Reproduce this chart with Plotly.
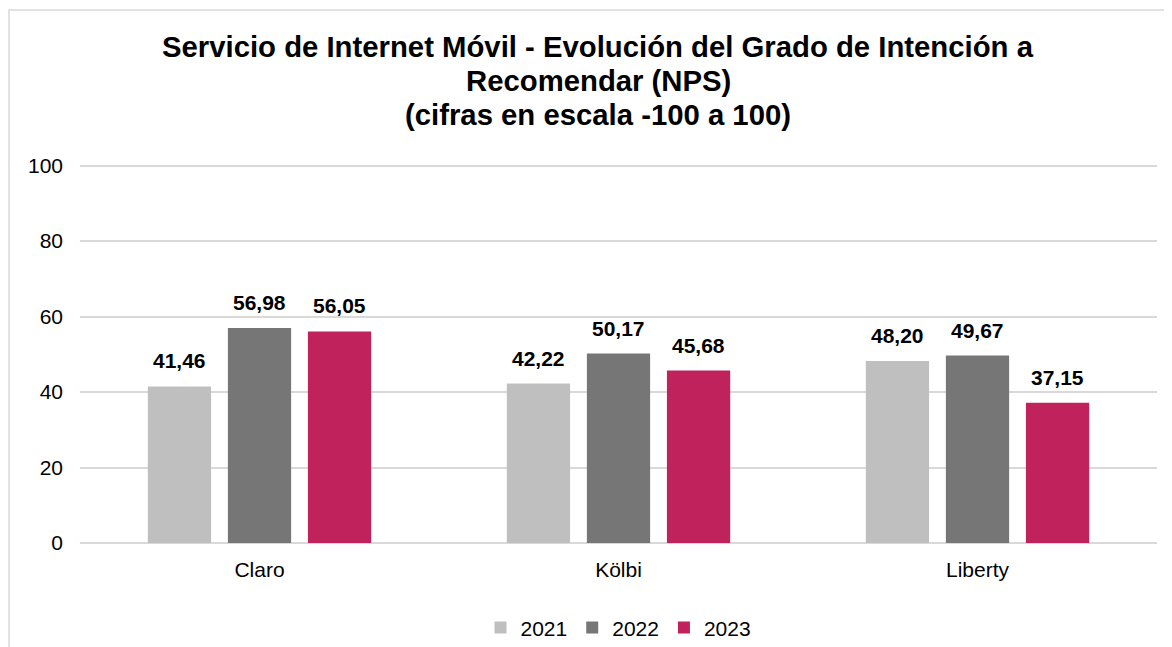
import plotly.graph_objects as go

categories = ["Claro", "Kölbi", "Liberty"]
years = ["2021", "2022", "2023"]
values_2021 = [41.46, 42.22, 48.20]
values_2022 = [56.98, 50.17, 49.67]
values_2023 = [56.05, 45.68, 37.15]
colors = ["#bfbfbf", "#767676", "#c0235b"]
y_ticks = [0, 20, 40, 60, 80, 100]
title_lines = [
    "Servicio de Internet Móvil - Evolución del Grado de Intención a",
    "Recomendar (NPS)",
    "(cifras en escala -100 a 100)",
]

series = [values_2021, values_2022, values_2023]

FONT = "Liberation Sans, Arial, sans-serif"

fig = go.Figure()
for name, vals, col in zip(years, series, colors):
    fig.add_trace(go.Bar(
        x=categories, y=vals, name=name,
        marker=dict(color=col, line=dict(width=0)),
        textposition="none",
    ))

# Data labels above each bar
slot_px = 80
for i, vals in enumerate(series):
    for cat, v in zip(categories, vals):
        fig.add_annotation(
            x=cat, y=v, xref="x", yref="y",
            text=f"<b>{v:.2f}</b>".replace(".", ","),
            showarrow=False, xanchor="center", yanchor="bottom",
            xshift=(i - 1) * slot_px, yshift=12,
            font=dict(family=FONT, size=21, color="#000000"),
        )

# Title, one line per annotation
title_y = [1.3113, 1.2216, 1.1319]
for line, ty in zip(title_lines, title_y):
    fig.add_annotation(
        x=0.481, y=ty, xref="paper", yref="paper",
        text=f"<b>{line}</b>", showarrow=False,
        xanchor="center", yanchor="middle",
        font=dict(family=FONT, size=29.3, color="#000000"),
    )

fig.add_shape(
    type="rect", xref="paper", yref="paper",
    x0=-0.0659, x1=1.2, y0=-0.6, y1=1.4063,
    line=dict(color="#d9d9d9", width=1.5), fillcolor="rgba(0,0,0,0)",
    layer="below",
)

fig.update_layout(
    width=1164, height=639,
    margin=dict(l=72, r=15, t=156, b=104, autoexpand=False),
    paper_bgcolor="white", plot_bgcolor="white",
    font=dict(family=FONT, size=21, color="#000000"),
    barmode="group", bargap=0.331, bargroupgap=0.21,
    showlegend=True,
    legend=dict(
        orientation="h", x=0.5, xanchor="center", y=-0.224, yanchor="middle",
        font=dict(family=FONT, size=21, color="#000000"),
        itemwidth=30, traceorder="normal",
    ),
    yaxis=dict(
        range=[0, 100.4], tickvals=y_ticks, showgrid=True, gridcolor="#d9d9d9",
        gridwidth=1.5, zeroline=True, zerolinecolor="#d9d9d9", zerolinewidth=1.5,
        showline=False, ticks="", ticklabelstandoff=16, automargin=False,
        tickfont=dict(family=FONT, size=21, color="#000000"),
    ),
    xaxis=dict(
        showgrid=False, showline=False, ticks="", ticklabelstandoff=12,
        automargin=False,
        tickfont=dict(family=FONT, size=21, color="#000000"),
    ),
)

fig.write_html("out.html")
